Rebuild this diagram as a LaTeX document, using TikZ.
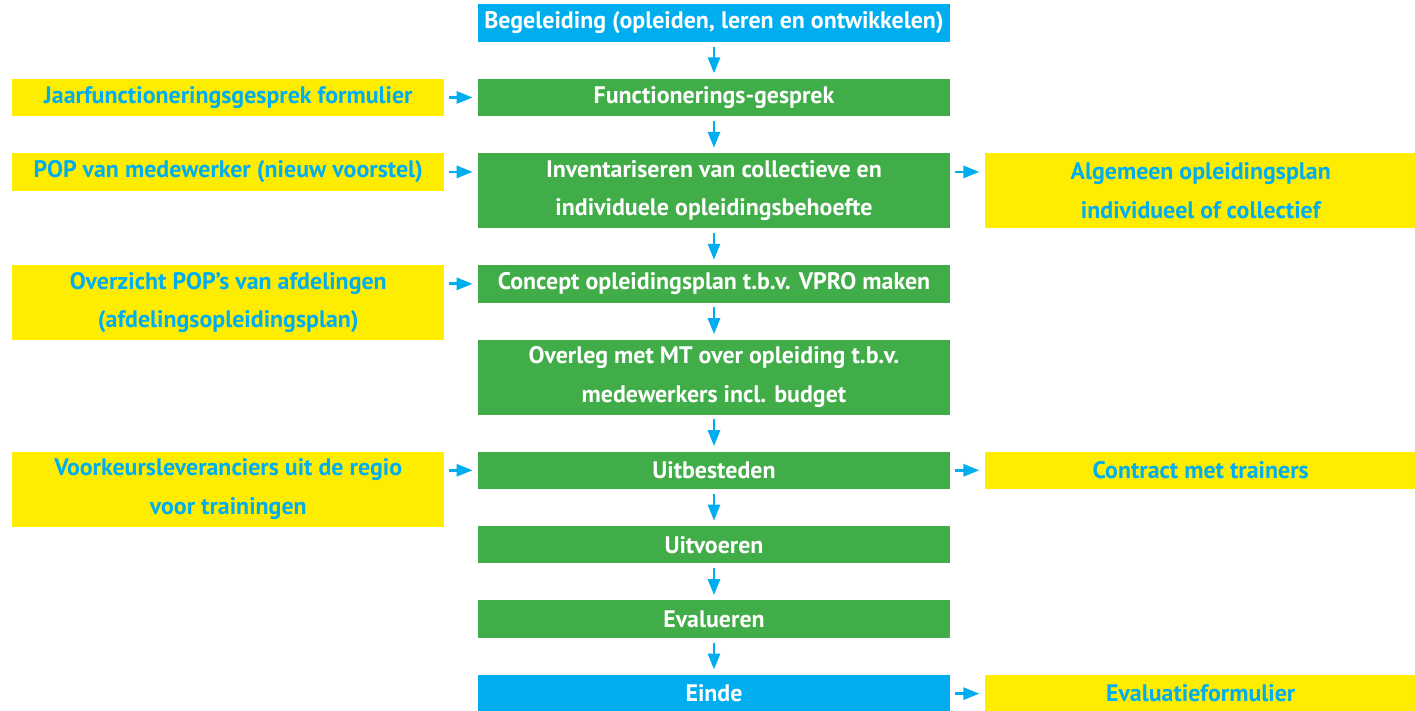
\documentclass[tikz,border=0pt]{standalone}
\usepackage{fontspec}
\setmainfont{PT Sans}
\usetikzlibrary{arrows.meta,positioning}
\definecolor{vgreen}{HTML}{41AD49}
\definecolor{vblue}{HTML}{00AEEF}
\definecolor{vyellow}{HTML}{FFED00}
\begin{document}
\begin{tikzpicture}[node distance=7.25mm, every node/.style={font=\bfseries\fontsize{13.6}{22}\selectfont,align=center,inner sep=2pt}, box/.style={fill=vgreen,text=white,minimum width=94.4mm,minimum height=7.5mm}, side/.style={fill=vyellow,text=vblue,minimum width=86.4mm,minimum height=7.5mm}, arr/.style={-{Triangle[length=3.2mm,width=2.4mm]},vblue,line width=1.6pt,shorten <=0.9mm,shorten >=1mm}]
\useasboundingbox (0,0) rectangle (28.3,-14.2);
\node[box,fill=vblue] (begel) at (14.28,-0.46) {Begeleiding (opleiden, leren en ontwikkelen)};
\node[box,below=of begel] (functie) {Functionerings-gesprek};
\node[box,below=of functie,minimum height=15mm] (invent) {Inventariseren van collectieve en\\individuele opleidingsbehoefte};
\node[box,below=of invent] (concept) {Concept opleidingsplan t.b.v. VPRO maken};
\node[box,below=of concept,minimum height=15mm] (overleg) {Overleg met MT over opleiding t.b.v.\\medewerkers incl. budget};
\node[box,below=of overleg] (uitbest) {Uitbesteden};
\node[box,below=of uitbest] (uitvoer) {Uitvoeren};
\node[box,below=of uitvoer] (evalu) {Evalueren};
\node[box,fill=vblue,below=of evalu] (einde) {Einde};
% bronnen links
\node[side,left=6.6mm of functie.north west,anchor=north east] (jaarform) {Jaarfunctioneringsgesprek formulier};
\node[side,left=6.6mm of invent.north west,anchor=north east] (pop) {POP van medewerker (nieuw voorstel)};
\node[side,left=6.6mm of concept.north west,anchor=north east,minimum height=15mm] (overzicht) {Overzicht POP’s van afdelingen\\(afdelingsopleidingsplan)};
\node[side,left=6.6mm of uitbest.north west,anchor=north east,minimum height=15mm] (voorkeur) {Voorkeursleveranciers uit de regio\\voor trainingen};
% resultaten rechts
\node[side,right=6.8mm of invent.north east,anchor=north west,minimum height=15mm] (algemeen) {Algemeen opleidingsplan\\individueel of collectief};
\node[side,right=6.8mm of uitbest.north east,anchor=north west] (contract) {Contract met trainers};
\node[side,right=6.8mm of einde.north east,anchor=north west] (evalform) {Evaluatieformulier};
\draw[arr] (begel)--(functie); \draw[arr] (functie)--(invent); \draw[arr] (invent)--(concept); \draw[arr] (concept)--(overleg);
\draw[arr] (overleg)--(uitbest); \draw[arr] (uitbest)--(uitvoer); \draw[arr] (uitvoer)--(evalu); \draw[arr] (evalu)--(einde);
\draw[arr] (jaarform)--(functie); \draw[arr] (pop)--(pop-|invent.west); \draw[arr] (overzicht.east|-concept)--(concept); \draw[arr] (voorkeur.east|-uitbest)--(uitbest);
\draw[arr] (invent.east|-pop)--(algemeen.west|-pop); \draw[arr] (uitbest)--(contract); \draw[arr] (einde)--(evalform);
\end{tikzpicture}
\end{document}
